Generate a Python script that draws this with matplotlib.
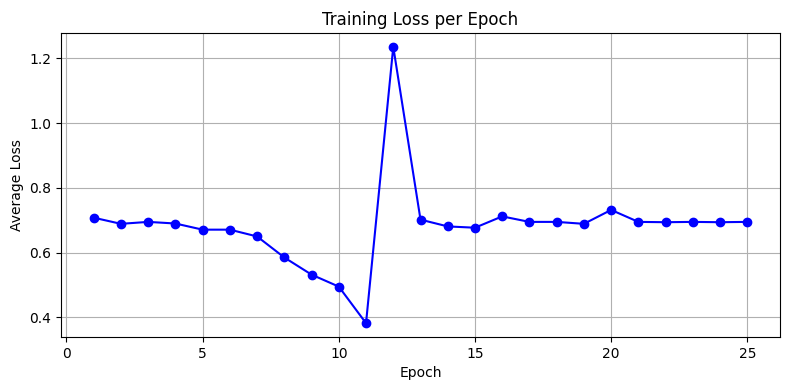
import matplotlib
matplotlib.use("Agg")
import matplotlib.pyplot as plt

epochs = list(range(1, 26))
avg_loss = [0.708, 0.689, 0.695, 0.690, 0.671, 0.671, 0.650, 0.585, 0.532, 0.495,
            0.382, 1.236, 0.702, 0.681, 0.677, 0.712, 0.695, 0.695, 0.689, 0.732,
            0.695, 0.694, 0.695, 0.694, 0.695]

fig = plt.figure(figsize=(7.9, 3.9), dpi=100)
plt.plot(epochs, avg_loss, marker='o', color='blue')
plt.title('Training Loss per Epoch')
plt.xlabel('Epoch')
plt.ylabel('Average Loss')
plt.grid(True)
# axes box placed to match the reference margins
plt.subplots_adjust(left=61/790, right=780/790, top=1 - 33/390, bottom=1 - 337/390)
plt.savefig('out.png')
